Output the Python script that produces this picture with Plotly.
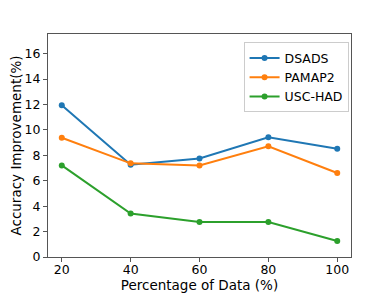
import plotly.graph_objects as go

x_vals = [20, 40, 60, 80, 100]
dsads = [11.95, 7.26, 7.76, 9.42, 8.52]
pamap2 = [9.39, 7.37, 7.21, 8.71, 6.61]
usc_had = [7.21, 3.42, 2.76, 2.76, 1.26]
series_names = ["DSADS", "PAMAP2", "USC-HAD"]
colors = ["#1f77b4", "#ff7f0e", "#2ca02c"]
x_ticks = [20, 40, 60, 80, 100]
y_ticks = [0, 2, 4, 6, 8, 10, 12, 14, 16]

fig = go.Figure()
for name, vals, c in zip(series_names, [dsads, pamap2, usc_had], colors):
    fig.add_trace(go.Scatter(x=x_vals, y=vals, name=name, mode="lines+markers",
                             line=dict(color=c, width=2),
                             marker=dict(color=c, size=6)))

font = "DejaVu Sans"
# page body has an 8px margin, so the figure is drawn offset by (8, 8)
fig.update_layout(
    width=382, height=285,
    margin=dict(l=40, r=39, t=26, b=36, autoexpand=False),
    plot_bgcolor="white", paper_bgcolor="white",
    font=dict(family=font, size=12.5, color="black"),
    showlegend=True,
    legend=dict(x=0.992, y=0.962, xanchor="right", yanchor="top",
                bordercolor="#cccccc", borderwidth=1, bgcolor="white",
                font=dict(size=12.5), tracegroupgap=0, itemwidth=30),
)
fig.update_xaxes(range=[16, 104], tickvals=x_ticks, showgrid=False, zeroline=False,
                 showline=True, linecolor="#555555", linewidth=1, mirror=True,
                 ticks="outside", ticklen=4, tickcolor="#555555", automargin=False,
                 ticklabelstandoff=-3,
                 title=dict(text="Percentage of Data (%)", font=dict(size=13.5), standoff=6))
fig.update_yaxes(range=[0, 17.55], tickvals=y_ticks, showgrid=False, zeroline=False,
                 showline=True, linecolor="#555555", linewidth=1, mirror=True,
                 ticks="outside", ticklen=4, tickcolor="#555555", automargin=False,
                 title=dict(text="Accuracy Improvement(%)", font=dict(size=13.5), standoff=2))
fig.write_html("out.html")
